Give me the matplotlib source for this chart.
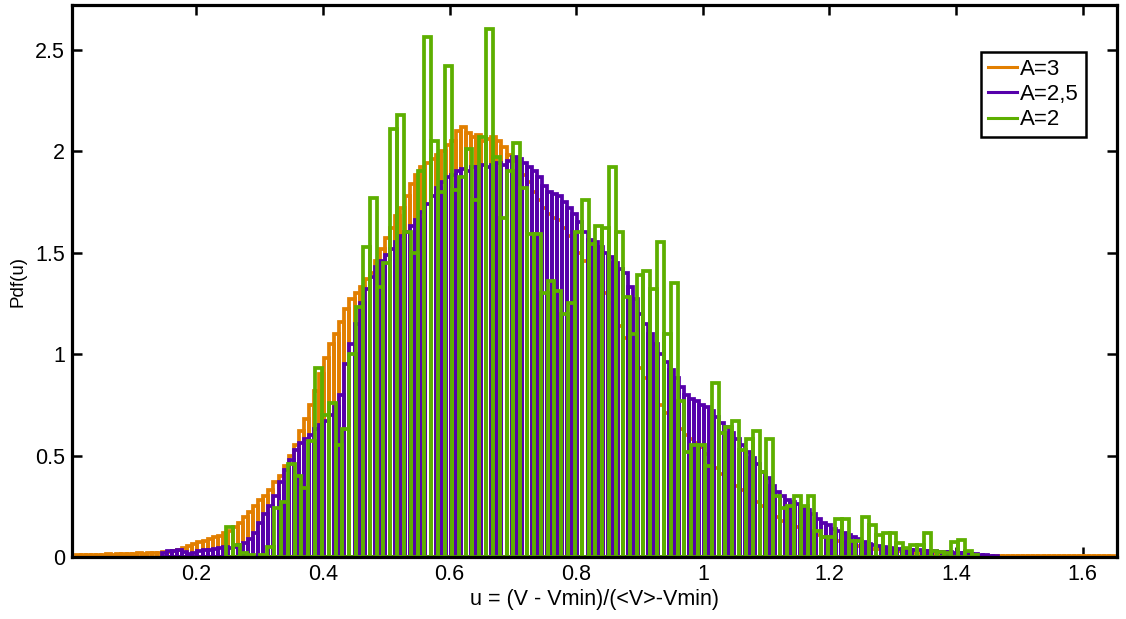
import numpy as np
import matplotlib as mpl
mpl.use('Agg')
import matplotlib.pyplot as plt
from matplotlib.lines import Line2D

plt.rcParams['font.family'] = ['Liberation Sans', 'DejaVu Sans']

## Histogram data
# A=3 and A=2,5 share the same bins
bin_start = 0.010
bin_w = 0.008
pdf_a3 = [
    0.010, 0.010, 0.011, 0.012, 0.010, 0.012, 0.013, 0.012, 0.015, 0.013,
    0.015, 0.016, 0.018, 0.017, 0.020, 0.022, 0.020, 0.024, 0.025, 0.030,
    0.035, 0.045, 0.055, 0.065, 0.075, 0.080, 0.090, 0.100, 0.105, 0.120,
    0.130, 0.150, 0.170, 0.200, 0.220, 0.250, 0.280, 0.300, 0.330, 0.370,
    0.400, 0.450, 0.500, 0.550, 0.620, 0.680, 0.750, 0.820, 0.900, 0.980,
    1.05, 1.10, 1.16, 1.22, 1.27, 1.30, 1.33, 1.37, 1.40, 1.46,
    1.52, 1.57, 1.62, 1.68, 1.72, 1.78, 1.84, 1.88, 1.92, 1.94,
    1.96, 1.98, 2.00, 2.03, 2.05, 2.10, 2.12, 2.09, 2.07, 2.08,
    2.05, 2.06, 2.07, 2.05, 2.02, 1.98, 1.95, 1.92, 1.88, 1.85,
    1.80, 1.76, 1.72, 1.69, 1.67, 1.66, 1.62, 1.58, 1.54, 1.50,
    1.46, 1.42, 1.37, 1.34, 1.30, 1.25, 1.20, 1.14, 1.08, 1.03,
    0.98, 0.93, 0.88, 0.83, 0.79, 0.75, 0.71, 0.68, 0.65, 0.63,
    0.60, 0.58, 0.56, 0.54, 0.51, 0.47, 0.44, 0.41, 0.39, 0.37,
    0.35, 0.33, 0.31, 0.29, 0.27, 0.25, 0.23, 0.21, 0.20, 0.18,
    0.17, 0.16, 0.15, 0.14, 0.13, 0.12, 0.11, 0.10, 0.09, 0.085,
    0.080, 0.070, 0.065, 0.060, 0.055, 0.050, 0.045, 0.040, 0.038, 0.035,
    0.032, 0.030, 0.028, 0.025, 0.022, 0.020, 0.020, 0.018, 0.016, 0.015,
    0.014, 0.012, 0.012, 0.010, 0.009, 0.008, 0.008, 0.007, 0.007, 0.006,
    0.006, 0.006, 0.005, 0.006, 0.005, 0.005, 0.006, 0.005, 0.005, 0.005,
    0.005, 0.005, 0.004, 0.005, 0.005, 0.004, 0.005, 0.005, 0.004, 0.005,
    0.005, 0.004, 0.005, 0.005, 0.004,
]
pdf_a25 = [
    0, 0, 0, 0, 0, 0, 0, 0, 0, 0,
    0, 0, 0, 0, 0, 0, 0, 0.020, 0.030, 0.030,
    0.035, 0.025, 0.015, 0.020, 0.030, 0.035, 0.035, 0.040, 0.045, 0.050,
    0.045, 0.050, 0.060, 0.070, 0.090, 0.120, 0.170, 0.210, 0.250, 0.300,
    0.370, 0.430, 0.480, 0.530, 0.560, 0.580, 0.600, 0.630, 0.650, 0.670,
    0.70, 0.74, 0.80, 0.95, 1.05, 1.15, 1.25, 1.32, 1.38, 1.43,
    1.46, 1.49, 1.52, 1.55, 1.58, 1.60, 1.63, 1.66, 1.70, 1.74,
    1.78, 1.82, 1.85, 1.87, 1.88, 1.90, 1.91, 1.90, 1.92, 1.92,
    1.93, 1.92, 1.93, 1.94, 1.93, 1.95, 1.97, 1.96, 1.94, 1.92,
    1.90, 1.87, 1.83, 1.80, 1.79, 1.78, 1.75, 1.72, 1.69, 1.65,
    1.60, 1.56, 1.55, 1.53, 1.50, 1.48, 1.45, 1.42, 1.40, 1.33,
    1.27, 1.20, 1.15, 1.10, 1.05, 1.00, 0.96, 0.92, 0.88, 0.84,
    0.80, 0.78, 0.77, 0.75, 0.74, 0.72, 0.69, 0.66, 0.64, 0.61,
    0.58, 0.55, 0.52, 0.49, 0.46, 0.42, 0.39, 0.35, 0.32, 0.30,
    0.28, 0.27, 0.26, 0.24, 0.23, 0.21, 0.19, 0.17, 0.16, 0.14,
    0.13, 0.12, 0.11, 0.10, 0.09, 0.075, 0.065, 0.060, 0.055, 0.050,
    0.045, 0.042, 0.040, 0.038, 0.036, 0.035, 0.033, 0.030, 0.030, 0.028,
    0.026, 0.025, 0.024, 0.022, 0.020, 0.018, 0.016, 0.015, 0.012, 0.010,
    0.006, 0.004, 0, 0, 0, 0, 0, 0, 0, 0,
    0, 0, 0, 0, 0, 0, 0, 0, 0, 0,
    0, 0, 0, 0, 0,
]
# A=2 has wider bins
g_start = 0.2473
g_w = 0.0108
pdf_a2 = [
    0.15, 0.06, 0.02, 0.01, 0.0, 0.01, 0.05, 0.24, 0.27, 0.46,
    0.40, 0.34, 0.57, 0.93, 0.70, 0.76, 0.55, 0.63, 1.00, 1.23,
    1.53, 1.77, 1.33, 1.45, 2.11, 2.18, 1.60, 1.50, 1.90, 2.56,
    2.05, 1.80, 2.42, 1.81, 1.87, 2.01, 1.76, 2.07, 2.60, 1.97,
    1.67, 1.90, 2.04, 1.82, 1.59, 1.59, 1.30, 1.36, 1.31, 1.20,
    1.25, 1.60, 1.76, 1.54, 1.63, 1.62, 1.92, 1.60, 1.28, 1.10,
    1.39, 1.41, 1.32, 1.55, 1.10, 1.35, 0.77, 0.52, 0.55, 0.55,
    0.45, 0.86, 0.61, 0.64, 0.67, 0.53, 0.58, 0.62, 0.42, 0.58,
    0.30, 0.24, 0.25, 0.30, 0.25, 0.30, 0.13, 0.10, 0.10, 0.19,
    0.19, 0.08, 0.08, 0.20, 0.16, 0.11, 0.12, 0.12, 0.07, 0.045,
    0.06, 0.06, 0.12, 0.03, 0.025, 0.02, 0.075, 0.085, 0.03, 0.01,
]

labels = ['A=3', 'A=2,5', 'A=2']
colors = ['#E27F00', '#5600AB', '#5DAF00']
xticks = [0.2, 0.4, 0.6, 0.8, 1.0, 1.2, 1.4, 1.6]
xticklabels = ['0.2', '0.4', '0.6', '0.8', '1', '1.2', '1.4', '1.6']
yticks = [0, 0.5, 1, 1.5, 2, 2.5]
yticklabels = ['0', '0.5', '1', '1.5', '2', '2.5']

fig = plt.figure(figsize=(11.26, 6.19), dpi=100)
ax = fig.add_axes([0.064, 0.1, 0.928, 0.892])

def draw_hist(start, w, vals, col):
    vals = np.array(vals)
    centers = start + w / 2 + w * np.arange(len(vals))
    keep = vals > 0
    ax.bar(centers[keep], vals[keep], width=w, fill=False, edgecolor=col,
           linewidth=2.7, zorder=2)

draw_hist(bin_start, bin_w, pdf_a3, colors[0])
draw_hist(bin_start, bin_w, pdf_a25, colors[1])
draw_hist(g_start, g_w, pdf_a2, colors[2])

ax.set_xlim(0.004, 1.654)
ax.set_ylim(0, 2.72)
ax.set_xticks(xticks)
ax.set_xticklabels(xticklabels)
ax.set_yticks(yticks)
ax.set_yticklabels(yticklabels)
ax.tick_params(direction='in', length=7, width=1.8, labelsize=15.5,
               top=True, right=True, pad=5)
for s in ax.spines.values():
    s.set_linewidth(2.3)
ax.set_xlabel('u = (V - Vmin)/(<V>-Vmin)', fontsize=15.5, labelpad=3)
ax.set_ylabel('Pdf(u)', fontsize=13.5, labelpad=6)

handles = [Line2D([0], [0], color=c, lw=2.2) for c in colors]
leg = ax.legend(handles, labels, loc='upper right', bbox_to_anchor=(0.970, 0.915),
                borderaxespad=0, fontsize=16, handlelength=1.3, handletextpad=0.15,
                labelspacing=0.2, borderpad=0.3, fancybox=False, framealpha=1)
leg.get_frame().set_edgecolor('black')
leg.get_frame().set_linewidth(1.8)

plt.savefig('out.png', dpi=100)
